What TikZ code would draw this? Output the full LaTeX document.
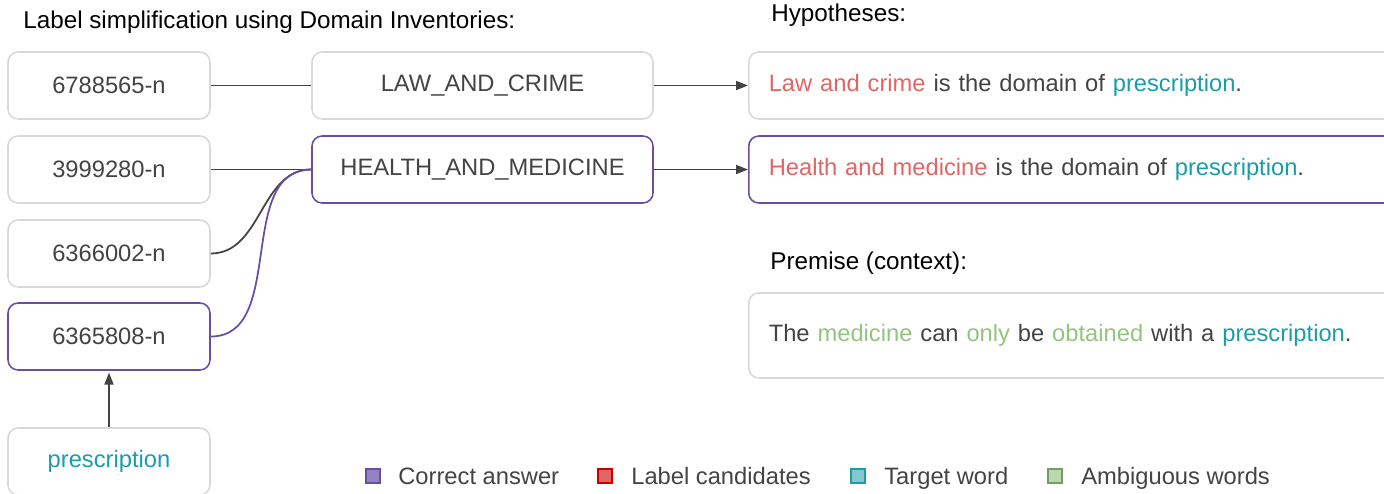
\documentclass[tikz,border=0pt]{standalone}
\usepackage{fontspec}
\setmainfont{Liberation Sans}
\usetikzlibrary{arrows.meta}

\definecolor{boxgray}{HTML}{D9D9D9}
\definecolor{txtgray}{HTML}{434343}
\definecolor{purp}{HTML}{674EA7}
\definecolor{labelred}{HTML}{E06666}
\definecolor{target}{HTML}{1A9DA8}
\definecolor{ambig}{HTML}{93C47D}

\tikzset{
  every node/.style={font=\fontsize{13.5}{16}\selectfont, text=txtgray},
  sensebox/.style={draw=boxgray, line width=0.9pt, rounded corners=0.2cm,
    minimum width=4.04cm, minimum height=1.34cm},
  dombox/.style={sensebox, minimum width=6.82cm},
  hypbox/.style={draw=boxgray, line width=0.9pt, rounded corners=0.2cm, anchor=west,
    text width=13.2cm, align=left, inner xsep=0.4cm, minimum height=1.34cm},
  answer/.style={draw=purp},
  link/.style={draw=txtgray, line width=1pt},
  arrowtip/.style={-{Triangle[length=0.24cm,width=0.18cm]}},
  legbox/.style={minimum size=0.28cm, inner sep=0pt, line width=0.9pt},
  legtext/.style={anchor=base west, inner xsep=0pt},
  heading/.style={anchor=base west, inner xsep=0pt, text=black,
    font=\fontsize{13.8}{16}\selectfont},
}

\begin{document}
\begin{tikzpicture}[x=0.02cm, y=-0.02cm]
    \clip (0,0) rectangle (1384,494);

    % Titles
    \node[heading] (t1) at (23,28) {Label simplification using Domain Inventories:};
    \node[heading] (t2) at (771,21) {Hypotheses:};
    \node[heading] (t3) at (770,269) {Premise (context):};

    % Nodes for the senses
    \node[sensebox] (s1) at (109,85.5) {6788565-n};
    \node[sensebox] (s2) at (109,169.5) {3999280-n};
    \node[sensebox] (s3) at (109,253.5) {6366002-n};
    \node[sensebox,answer] (s4) at (109,336.5) {6365808-n};
    \node[sensebox] (pres) at (109,461.5) {\textcolor{target}{prescription}};

    % Nodes for the domains
    \node[dombox] (law) at (482.5,85.5) {LAW\_AND\_CRIME};
    \node[dombox,answer] (health) at (482.5,169.5) {HEALTH\_AND\_MEDICINE};

    % Hypotheses and premise
    \node[hypbox] (h1) at (748,85.5) {\textcolor{labelred}{Law and crime} is the domain of \textcolor{target}{prescription}.};
    \node[hypbox,answer] (h2) at (748,169.5) {\textcolor{labelred}{Health and medicine} is the domain of \textcolor{target}{prescription}.};
    \node[hypbox,minimum height=1.7cm] (prem) at (748,335.5) {The \textcolor{ambig}{medicine} can \textcolor{ambig}{only} be \textcolor{ambig}{obtained} with a \textcolor{target}{prescription}.};

    % Edges from senses to domains
    \draw[link] (s1) -- (law);
    \draw[link] (s2) -- (health);
    \draw[link] (s3.east) to[out=0,in=180] (health.west);
    \draw[link,draw=purp] (s4.east) to[out=0,in=180] (health.west);

    % Arrows
    \draw[link,arrowtip,shorten >=1pt] (pres) -- (s4);
    \draw[link,arrowtip] (law) -- (h1);
    \draw[link,arrowtip] (health) -- (h2);

    % Legend
    \node[legbox,draw=purp,fill=purp!70] (l1) at (373,476) {};
    \node[legtext] (c1) at (398,484) {Correct answer};
    \node[legbox,draw=red!80!black,fill=labelred] (l2) at (605,476) {};
    \node[legtext] (c2) at (631,484) {Label candidates};
    \node[legbox,draw=target,fill=target!55] (l3) at (858,476) {};
    \node[legtext] (c3) at (884,484) {Target word};
    \node[legbox,draw=ambig!80!black,fill=ambig!65] (l4) at (1055,476) {};
    \node[legtext] (c4) at (1081,484) {Ambiguous words};
\end{tikzpicture}
\end{document}
